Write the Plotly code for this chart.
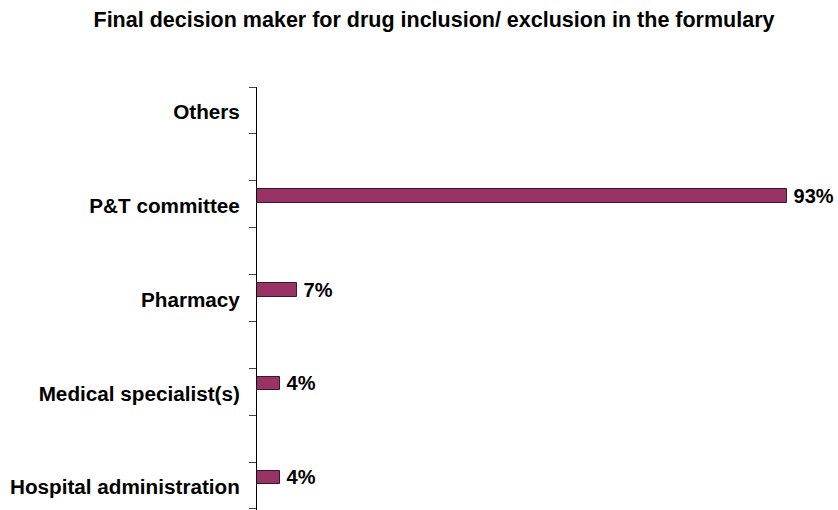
import plotly.graph_objects as go

categories = ["Hospital administration", "Medical specialist(s)", "Pharmacy", "P&T committee", "Others"]
values = [4, 4, 7, 93, 0]
title_text = "Final decision maker for drug inclusion/ exclusion in the formulary"

labels = [f"{v}%" if v > 0 else "" for v in values]

FONT = "Liberation Sans, Arial, sans-serif"

fig = go.Figure()
fig.add_trace(go.Bar(
    y=categories,
    x=values,
    orientation="h",
    marker=dict(color="#993366", line=dict(color="#3a1a2a", width=1)),
    width=0.144,
    offset=0.03,
    text=labels,
    texttemplate="<b>\u2009%{text}</b>",
    textposition="outside",
    constraintext="none",
    textfont=dict(family=FONT, size=20, color="#000000"),
    cliponaxis=False,
    hoverinfo="skip",
))
# helper invisible trace on y2 so the overlay axis renders
fig.add_trace(go.Scatter(x=[None], y=[None], yaxis="y2", showlegend=False, hoverinfo="skip"))

fig.update_layout(
    width=838, height=510,
    margin=dict(l=257, r=11, t=87, b=0),
    paper_bgcolor="white", plot_bgcolor="white",
    showlegend=False,
    font=dict(family=FONT, color="#000000"),
    title=dict(
        text="<b>" + title_text + "</b>",
        x=434 / 838, xref="container", xanchor="center",
        y=1 - 19 / 510, yref="container", yanchor="middle",
        font=dict(family=FONT, size=21.5, color="#000000"),
    ),
    bargap=0,
    xaxis=dict(range=[0, 100], visible=False, fixedrange=True),
    yaxis=dict(
        type="category",
        categoryorder="array", categoryarray=categories,
        range=[-0.245, 4.267],
        showline=True, linecolor="#000000", linewidth=1,
        ticks="", showgrid=False, zeroline=False,
        tickfont=dict(family=FONT, size=20.7, color="#000000"),
        ticklabelstandoff=12,
        tickprefix="<b>", ticksuffix="</b>",
    ),
    yaxis2=dict(
        overlaying="y", side="left",
        range=[-0.245, 4.267],
        tick0=0.267, dtick=0.5,
        ticks="outside", ticklen=7, tickcolor="#444444", tickwidth=1,
        showticklabels=False, showgrid=False, zeroline=False, showline=False,
    ),
)

fig.write_html("out.html")
